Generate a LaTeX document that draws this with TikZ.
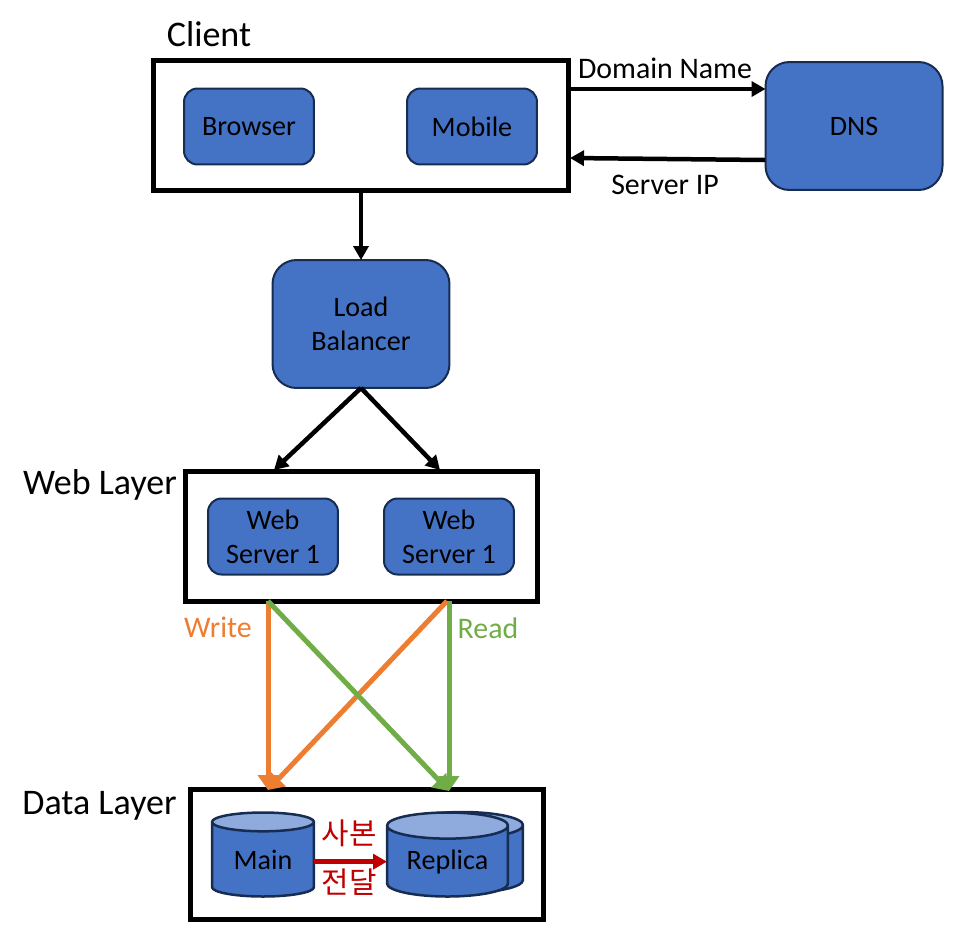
\documentclass[tikz,border=0pt]{standalone}
\usepackage{fontspec}
\setmainfont{Carlito}
\newfontfamily\cjk{Noto Sans CJK KR}
\usepackage{tikz}
\usetikzlibrary{arrows.meta}
\usetikzlibrary{shapes.geometric}
\definecolor{blockblue}{HTML}{4472C4}
\definecolor{blockedge}{HTML}{172C51}
\definecolor{disktop}{HTML}{8FAADC}
\definecolor{writeline}{HTML}{ED7D31}
\definecolor{readline}{HTML}{70AD47}
\definecolor{copyline}{HTML}{C00000}
\tikzset{
  layerbox/.style={draw, line width=0.1cm, outer sep=0pt, inner sep=0pt},
  smallblock/.style={draw=blockedge, fill=blockblue, line width=0.04cm, rounded corners=0.27cm, outer sep=0pt, inner sep=0pt, minimum width=2.6cm, minimum height=1.52cm, align=center, font=\fontsize{16}{19.4}\selectfont},
  bigblock/.style={smallblock, rounded corners=0.48cm, minimum width=3.54cm, minimum height=2.56cm},
  disk/.style={cylinder, shape border rotate=90, aspect=0.32, anchor=shape center, draw=blockedge, line width=0.05cm, cylinder uses custom fill, cylinder body fill=blockblue, cylinder end fill=disktop, outer sep=0pt, inner sep=0pt, minimum height=1.68cm, font=\fontsize{16}{19.4}\selectfont},
  flow/.style={line width=0.09cm, -{Triangle[length=0.28cm, width=0.3cm]}},
  colourflow/.style={line width=0.1cm, -{Triangle[length=0.3cm, width=0.4cm]}},
  title/.style={font=\fontsize{20.5}{24}\selectfont},
  tag/.style={font=\fontsize{17}{20}\selectfont},
  copytag/.style={text=copyline, font=\cjk\fontsize{17}{20}\selectfont}
}
\begin{document}
\begin{tikzpicture}[x=0.02cm, y=-0.02cm]
        \useasboundingbox (0,0) rectangle (972,930);
        % layer frames
        \node[layerbox, minimum width=8.29cm, minimum height=2.6cm] (client) at (361,125.5) {};
        \node[layerbox, minimum width=7.06cm, minimum height=2.6cm] (web) at (361.5,536) {};
        \node[layerbox, minimum width=7.05cm, minimum height=2.59cm] (data) at (367,854.5) {};
        % client row
        \node[smallblock] (browser) at (249,126.5) {Browser};
        \node[smallblock] (mobile) at (472,126.5) {Mobile};
        \node[bigblock] (dns) at (854,126) {DNS};
        % balancer and servers
        \node[bigblock] (balancer) at (361,324) {Load\\Balancer};
        \node[smallblock] (server1) at (273,536.5) {Web\\Server 1};
        \node[smallblock] (server2) at (449,536.5) {Web\\Server 1};
        % storage
        \node[disk, minimum width=2.04cm] (main) at (263,854.5) {Main};
        \node[disk, minimum width=2.42cm, minimum height=1.62cm] (replicaback) at (462.5,852.5) {\phantom{Replica}};
        \node[disk, minimum width=2.42cm] (replica) at (447.5,854.5) {Replica};
        % headings
        \node[title] (clienttitle) at (209,34) {Client};
        \node[title] (webtitle) at (100,485) {Web Layer};
        \node[title] (datatitle) at (99.5,806) {Data Layer};
        % labels
        \node[tag] (domainlabel) at (665,68) {Domain Name};
        \node[tag] (iplabel) at (665,185) {Server IP};
        \node[tag, text=writeline] (writelabel) at (218,627) {Write};
        \node[tag, text=readline] (readlabel) at (488,628) {Read};
        \node[copytag] (copylabel1) at (349,833) {사본};
        \node[copytag] (copylabel2) at (349,882) {전달};
        % free ends on the frames
        \coordinate (clientout) at (570,89);
        \coordinate (clientin) at (570,158);
        \coordinate (dnsin) at (dns.west |- clientout);
        \coordinate (dnsout) at (765,160);
        \coordinate (webleft) at (274,470);
        \coordinate (webright) at (440,470);
        \coordinate (writeout) at (268,601);
        \coordinate (readout) at (447,601);
        \coordinate (mainin) at (268,790);
        \coordinate (replicain) at (449,791);
        % arrows
        \draw[flow] (clientout) -- (dnsin);
        \draw[flow] (dnsout) -- (clientin);
        \draw[flow] (client.south -| balancer.north) -- (balancer.north);
        \draw[flow] (balancer.south) -- (webleft);
        \draw[flow] (balancer.south) -- (webright);
        \draw[colourflow, draw=writeline, fill=writeline] (writeout) -- (mainin);
        \draw[colourflow, draw=writeline, fill=writeline] (readout) -- (mainin);
        \draw[colourflow, draw=readline, fill=readline] (writeout) -- (replicain);
        \draw[colourflow, draw=readline, fill=readline] (readout -| replicain) -- (replicain);
        \draw[flow, draw=copyline, fill=copyline] (main.east |- replica.west) -- (replica.west);
    \end{tikzpicture}
\end{document}
